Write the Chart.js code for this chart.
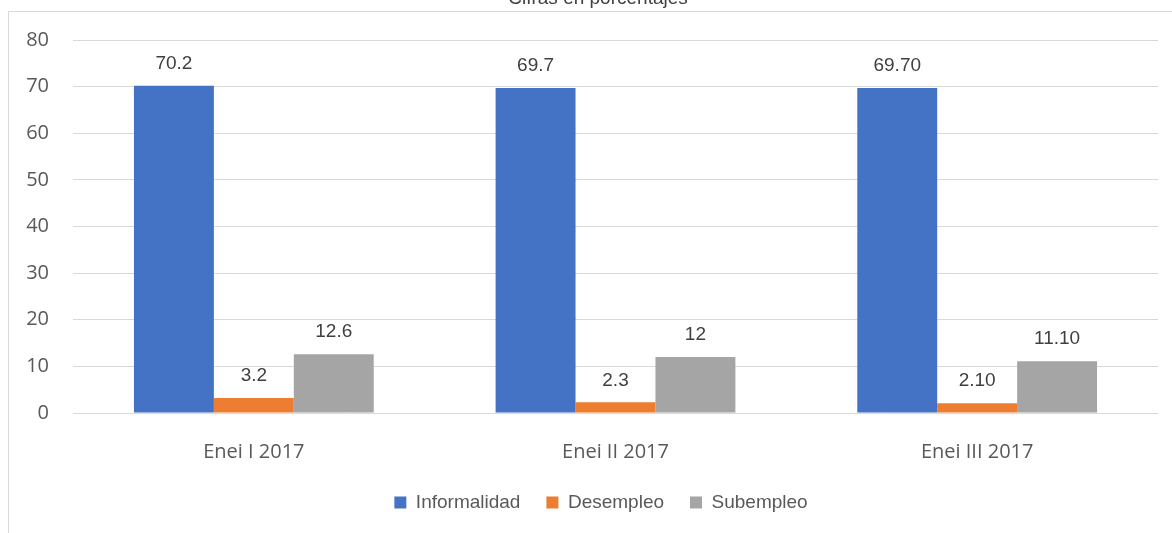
<!DOCTYPE html>
<html>
<head>
<meta charset="utf-8">
<script src="https://cdn.jsdelivr.net/npm/chart.js@4.4.1/dist/chart.umd.min.js"></script>
<style>
html,body{margin:0;padding:0;background:#fff;}
#wrap{position:relative;width:1172px;height:533px;}
</style>
</head>
<body>
<div id="wrap"><canvas id="c"></canvas></div>
<script>
const categories = ["Enei I 2017", "Enei II 2017", "Enei III 2017"];
const seriesNames = ["Informalidad", "Desempleo", "Subempleo"];
const informalidad = [70.2, 69.7, 69.7];
const desempleo = [3.2, 2.3, 2.1];
const subempleo = [12.6, 12, 11.1];
const informalidadLabels = ["70.2", "69.7", "69.70"];
const desempleoLabels = ["3.2", "2.3", "2.10"];
const subempleoLabels = ["12.6", "12", "11.10"];
const yTicks = [0, 10, 20, 30, 40, 50, 60, 70, 80];
const chartTitle = "Cifras en porcentajes";

const colors = ["#4472C4", "#ED7D31", "#A5A5A5"];
const valueLabels = [informalidadLabels, desempleoLabels, subempleoLabels];

const framePlugin = {
  id: 'frame',
  afterLayout(chart) {
    if (chart.legend) {
      chart.legend.left += 22;
      chart.legend.right += 22;
    }
  },
  beforeDraw(chart) {
    const ctx = chart.ctx;
    ctx.save();
    ctx.strokeStyle = '#d9d9d9';
    ctx.lineWidth = 1;
    ctx.beginPath();
    ctx.moveTo(8.5, 533);
    ctx.lineTo(8.5, 11.5);
    ctx.lineTo(1172, 11.5);
    ctx.stroke();
    ctx.fillStyle = '#404040';
    ctx.font = '19px "Liberation Sans", Arial, sans-serif';
    ctx.textAlign = 'center';
    ctx.textBaseline = 'alphabetic';
    ctx.fillText(chartTitle, 598, 4);
    ctx.restore();
  },
  afterDatasetsDraw(chart) {
    const ctx = chart.ctx;
    ctx.save();
    ctx.fillStyle = '#404040';
    ctx.font = '19px "Liberation Sans", Arial, sans-serif';
    ctx.textAlign = 'center';
    ctx.textBaseline = 'middle';
    chart.data.datasets.forEach((ds, i) => {
      const meta = chart.getDatasetMeta(i);
      meta.data.forEach((el, j) => {
        ctx.fillText(valueLabels[i][j], el.x, el.y - 22);
      });
    });
    ctx.restore();
  }
};

new Chart(document.getElementById('c'), {
  type: 'bar',
  data: {
    labels: categories,
    datasets: [
      { label: seriesNames[0], data: informalidad, backgroundColor: colors[0] },
      { label: seriesNames[1], data: desempleo, backgroundColor: colors[1] },
      { label: seriesNames[2], data: subempleo, backgroundColor: colors[2] }
    ]
  },
  options: {
    responsive: true,
    maintainAspectRatio: false,
    animation: false,
    layout: { padding: { left: 0, right: 14, top: 40, bottom: 11 } },
    datasets: { bar: { categoryPercentage: 0.663, barPercentage: 1.0 } },
    scales: {
      x: {
        grid: { display: false, drawTicks: false },
        border: { display: false },
        ticks: { color: '#595959', font: { family: '"Open Sans", sans-serif', size: 20 }, padding: 27 },
        afterFit(scale) { scale.height = 54; }
      },
      y: {
        min: 0, max: 80,
        afterBuildTicks(scale) { scale.ticks = yTicks.map(v => ({ value: v })); },
        grid: { color: '#d9d9d9', lineWidth: 1, drawTicks: false },
        border: { display: false },
        ticks: { color: '#595959', font: { family: '"Open Sans", sans-serif', size: 20 }, padding: 24 },
        afterFit(scale) { scale.width = 73; }
      }
    },
    plugins: {
      legend: {
        position: 'bottom',
        labels: {
          boxWidth: 12, boxHeight: 12, padding: 26,
          color: '#595959',
          font: { family: '"Liberation Sans", Arial, sans-serif', size: 19 }
        }
      },
      tooltip: { enabled: false }
    }
  },
  plugins: [framePlugin]
});
</script>
</body>
</html>
